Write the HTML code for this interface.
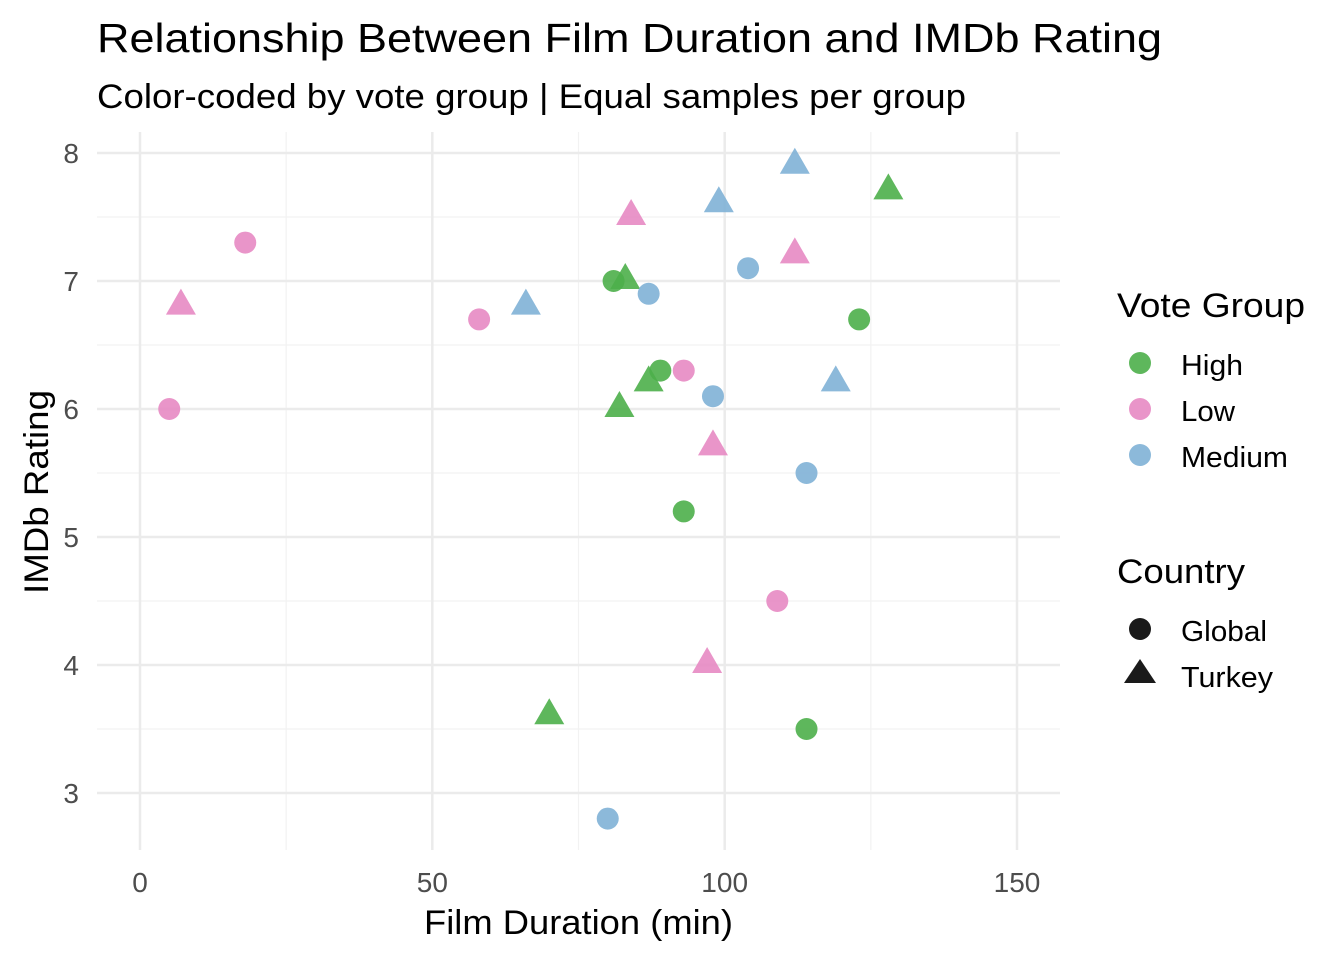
<!DOCTYPE html>
<html><head><meta charset="utf-8"><style>
body{margin:0;background:#fff;font-family:"Liberation Sans",sans-serif}
</style></head><body>
<svg width="1344" height="960" xmlns="http://www.w3.org/2000/svg" font-family="Liberation Sans, sans-serif">
<text x="97" y="52" font-size="41" fill="#000" textLength="1065" lengthAdjust="spacingAndGlyphs">Relationship Between Film Duration and IMDb Rating</text>
<text x="97" y="108" font-size="34" fill="#000" textLength="869" lengthAdjust="spacingAndGlyphs">Color-coded by vote group | Equal samples per group</text>
<g id="grid"></g>
<g id="axes"></g>
<g id="marks"></g>
<text x="424" y="934" font-size="34" textLength="309" lengthAdjust="spacingAndGlyphs">Film Duration (min)</text>
<text transform="translate(48,594) rotate(-90)" font-size="34" textLength="204" lengthAdjust="spacingAndGlyphs">IMDb Rating</text>
<g>
<text x="1117" y="317" font-size="34" textLength="188" lengthAdjust="spacingAndGlyphs">Vote Group</text>
<circle cx="1140" cy="363" r="11" fill="#4DAF4A" opacity="0.9"/><text x="1181" y="375" font-size="29" textLength="62" lengthAdjust="spacingAndGlyphs">High</text>
<circle cx="1140" cy="409" r="11" fill="#E78AC3" opacity="0.9"/><text x="1181" y="421" font-size="29" textLength="54" lengthAdjust="spacingAndGlyphs">Low</text>
<circle cx="1140" cy="455" r="11" fill="#7FB1D6" opacity="0.9"/><text x="1181" y="467" font-size="29" textLength="107" lengthAdjust="spacingAndGlyphs">Medium</text>
</g>
<g>
<text x="1117" y="583" font-size="34" textLength="128" lengthAdjust="spacingAndGlyphs">Country</text>
<circle cx="1140" cy="629" r="11" fill="#1a1a1a"/><text x="1181" y="641" font-size="29" textLength="86" lengthAdjust="spacingAndGlyphs">Global</text>
<polygon points="1140,659 1156,683 1124,683" fill="#1a1a1a"/><text x="1181" y="687" font-size="29" textLength="92" lengthAdjust="spacingAndGlyphs">Turkey</text>
</g>
</svg>
<script>
const durations=[5,18,58,93,109, 7,84,112,98,97, 81,123,89,93,114, 83,87,82,128,70, 87,104,98,114,80, 112,99,66,119];
const ratings=[6.0,7.3,6.7,6.3,4.5, 6.8,7.5,7.2,5.7,4.0, 7.0,6.7,6.3,5.2,3.5, 7.0,6.2,6.0,7.7,3.6, 6.9,7.1,6.1,5.5,2.8, 7.9,7.6,6.8,6.2];
const groups=["Low","Low","Low","Low","Low","Low","Low","Low","Low","Low","High","High","High","High","High","High","High","High","High","High","Medium","Medium","Medium","Medium","Medium","Medium","Medium","Medium","Medium"];
const countries=["Global","Global","Global","Global","Global","Turkey","Turkey","Turkey","Turkey","Turkey","Global","Global","Global","Global","Global","Turkey","Turkey","Turkey","Turkey","Turkey","Global","Global","Global","Global","Global","Turkey","Turkey","Turkey","Turkey"];
const xTicks=[0,50,100,150];
const yTicks=[3,4,5,6,7,8];
const colors={High:"#4DAF4A",Low:"#E78AC3",Medium:"#7FB1D6"};
const NS="http://www.w3.org/2000/svg";
const X=v=>140+v*(1017-140)/150;
const Y=v=>793-(v-3)*128;
const L=97,R=1060,T=132,B=850;
function mk(t,a,p){const e=document.createElementNS(NS,t);for(const k in a)e.setAttribute(k,a[k]);p.appendChild(e);return e;}
const grid=document.getElementById('grid'),axes=document.getElementById('axes'),marks=document.getElementById('marks');
for(let v=25;v<=150;v+=50){const l=mk('line',{x1:X(v),x2:X(v),y1:T,y2:B,stroke:'#f2f2f2','stroke-width':1.2},grid);}
for(let v=3.5;v<8;v+=1){const l=mk('line',{x1:L,x2:R,y1:Y(v),y2:Y(v),stroke:'#f2f2f2','stroke-width':1.2},grid);}
xTicks.forEach(v=>{const l=mk('line',{x1:X(v),x2:X(v),y1:T,y2:B,stroke:'#ebebeb','stroke-width':2.5},grid);
const t=mk('text',{x:X(v),y:892,'font-size':28,'text-anchor':'middle',fill:'#4d4d4d'},axes);t.textContent=v;});
yTicks.forEach(v=>{const l=mk('line',{x1:L,x2:R,y1:Y(v),y2:Y(v),stroke:'#ebebeb','stroke-width':2.5},grid);
const t=mk('text',{x:79,y:Y(v)+10,'font-size':28,'text-anchor':'end',fill:'#4d4d4d'},axes);t.textContent=v;});
durations.forEach((d,i)=>{const cx=X(d),cy=Y(ratings[i]);let e;
if(countries[i]==="Global")e=mk('circle',{cx:cx,cy:cy,r:11,fill:colors[groups[i]],opacity:0.9},marks);
else e=mk('polygon',{points:`${cx},${cy-18} ${cx+15},${cy+8} ${cx-15},${cy+8}`,fill:colors[groups[i]],opacity:0.9},marks);

});
</script>
</body></html>
